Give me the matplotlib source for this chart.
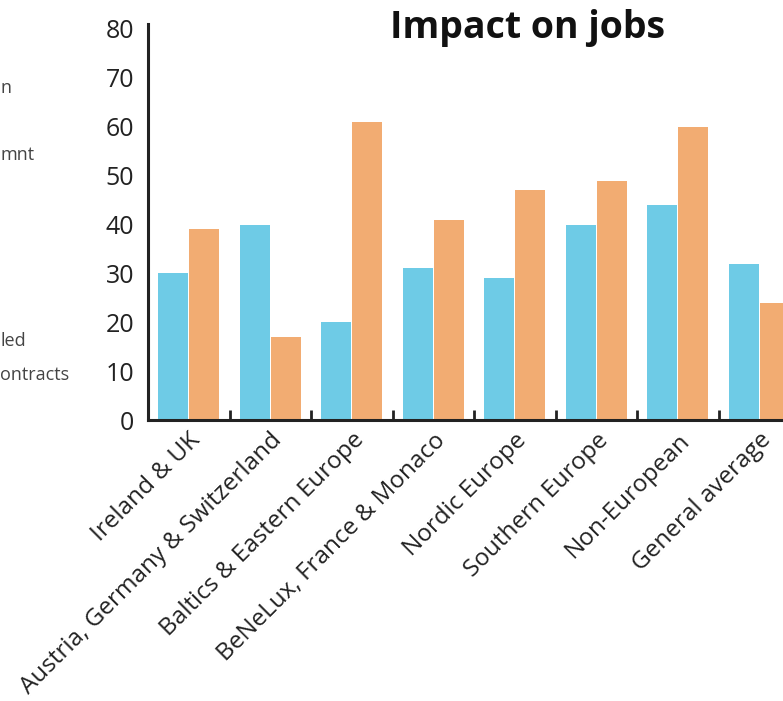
import matplotlib
matplotlib.use('Agg')
import matplotlib.pyplot as plt
import numpy as np

regions = ['Ireland & UK', 'Austria, Germany & Switzerland', 'Baltics & Eastern Europe',
           'BeNeLux, France & Monaco', 'Nordic Europe', 'Southern Europe',
           'Non-European', 'General average']
series_blue = [30, 40, 20, 31, 29, 40, 44, 32]
series_orange = [39, 17, 61, 41, 47, 49, 60, 24]
yticks = [0, 10, 20, 30, 40, 50, 60, 70, 80]
legend_bits = ['n', 'mnt', 'led', 'ontracts']

plt.rcParams['font.family'] = ['Open Sans', 'DejaVu Sans']

W, H = 783, 701
fig = plt.figure(figsize=(W / 100, H / 100), dpi=100)
ax = fig.add_axes([148 / W, 1 - 420 / H, (800 - 148) / W, (420 - 29) / H])

x = np.arange(len(regions))
bw = 0.37
ax.bar(x - 0.19, series_blue, bw, color='#6ECBE6', zorder=2)
ax.bar(x + 0.19, series_orange, bw, color='#F2AC72', zorder=2)

ax.set_xlim(-0.5, len(regions) - 0.5)
ax.set_ylim(0, 80)
ax.set_yticks(yticks)
ax.tick_params(axis='y', length=0, labelsize=18, pad=10, labelcolor='#222222')

ax.set_xticks(x)
ax.set_xticklabels(regions, rotation=45, ha='right', rotation_mode='anchor',
                   fontsize=17.5, color='#222222')
ax.tick_params(axis='x', which='major', length=0, pad=6)
ax.set_xticks(np.arange(0.5, len(regions) - 0.5, 1), minor=True)
ax.tick_params(axis='x', which='minor', direction='in', length=7, width=2, color='#222222')

for s in ['top', 'right']:
    ax.spines[s].set_visible(False)
for s in ['left', 'bottom']:
    ax.spines[s].set_linewidth(2.2)
    ax.spines[s].set_color('#222222')
ax.spines['left'].set_bounds(0, 81)

fig.text(527 / W, 1 - 28 / H, 'Impact on jobs', ha='center', va='center',
         fontsize=27, fontweight='bold', color='#111111')

# legend text cut off at the left edge in the original
fig.text(0, 1 - 88 / H, legend_bits[0], ha='left', va='center', fontsize=13, color='#444444')
fig.text(0, 1 - 155 / H, legend_bits[1], ha='left', va='center', fontsize=13, color='#444444')
fig.text(0, 1 - 341 / H, legend_bits[2], ha='left', va='center', fontsize=13, color='#444444')
fig.text(0, 1 - 375 / H, legend_bits[3], ha='left', va='center', fontsize=13, color='#444444')

fig.savefig('out.png', dpi=100)
